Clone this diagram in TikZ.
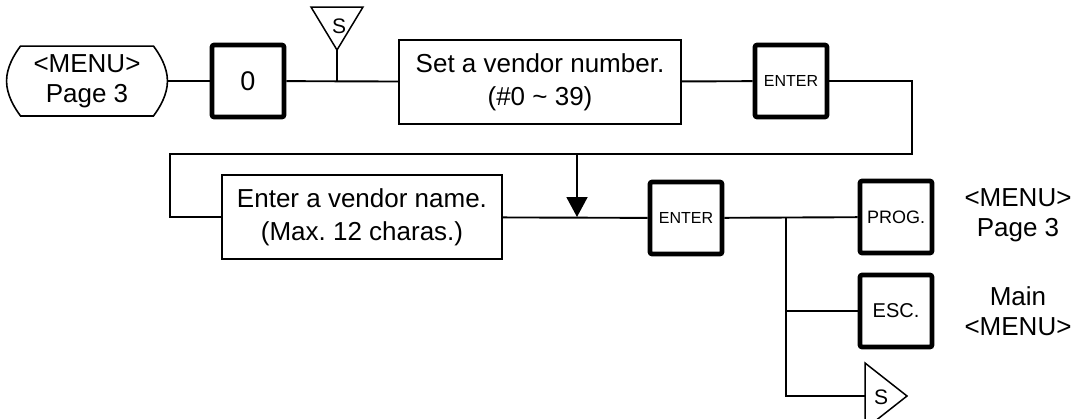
\documentclass[tikz,border=0pt]{standalone}
\usepackage{fontspec}
\setmainfont{Liberation Sans}
\usetikzlibrary{arrows.meta,calc}
\tikzset{
  key/.style={draw,line width=4.6pt,rounded corners=2pt,minimum size=72pt,inner sep=0pt},
  note/.style={draw,line width=1.6pt,minimum width=282pt,minimum height=84pt,align=center,font=\fontsize{26}{33}\selectfont},
  big/.style={align=center,font=\fontsize{26}{30}\selectfont},
  skey/.style={font=\fontsize{21}{21}\selectfont}
}

\begin{document}
\begin{tikzpicture}[x=1pt,y=-1pt,line width=1.9pt]
\useasboundingbox (0,0) rectangle (1076,418);
\node[big,minimum width=131pt,minimum height=68pt,inner sep=0pt] (menu) at (87,81) {<MENU>\\Page 3};
\coordinate (menur) at ($(menu.east)+(14,0)$); \coordinate (menul) at ($(menu.west)+(-14,0)$);
\draw[line width=1.6pt] (menu.north west) -- (menu.north east)
  .. controls +(6,8) and +(0,-14) .. (menur) .. controls +(0,14) and +(6,-8) .. (menu.south east)
  -- (menu.south west) .. controls +(-6,-8) and +(0,14) .. (menul) .. controls +(0,-14) and +(-6,8) .. (menu.north west) -- cycle;
\node[key,font=\fontsize{27}{27}\selectfont] (zero) at (248,81) {0};
\node[note] (setno) at (540,82) {Set a vendor number.\\(\#0 \textasciitilde{} 39)};
\node[key,font=\fontsize{16}{16}\selectfont] (enter) at (791,81) {ENTER};
\node[note,minimum width=280pt] (setname) at (362,217) {Enter a vendor name.\\(Max.\ 12 charas.)};
\node[key,font=\fontsize{16}{16}\selectfont] (enter2) at (686,218) {ENTER};
\node[key,font=\fontsize{18}{18}\selectfont] (prog) at (896,217) {PROG.};
\node[key,font=\fontsize{20}{20}\selectfont] (esc) at (896,311) {ESC.};
\node[big] (ret1) at (1018,215) {<MENU>\\Page 3};
\node[big] (ret2) at (1018,311) {Main\\<MENU>};
\draw (menur) -- (zero);
\foreach \a/\b in {zero/setno,setno/enter,setname/enter2,enter2/prog}{\draw (\a) -- (\b);}
\coordinate (s1) at (337,50);
\draw[line width=1.5pt] (s1) -- ++(-26,-43) -- ++(52,0) -- cycle;
\node[skey] (s1txt) at (339,26) {S};
\draw (s1) -- (s1 |- zero.east);
\coordinate (loopr) at (912,154); \coordinate (loopl) at (170,154);
\draw (enter) -| (loopr) -- (loopl) |- (setname);
\coordinate (drop) at (577,154);
\draw[-{Triangle[width=21pt,length=20pt]}] (drop) -- (drop |- setname.east);
\coordinate (fork) at (786,217); \coordinate (s2) at (865,396);
\draw (fork) |- (s2);
\draw (fork |- esc.west) -- (esc);
\draw[line width=1.5pt] (s2) -- ++(0,-33) -- ++(42,33) -- ++(-42,33) -- cycle;
\node[skey] (s2txt) at (881,397) {S};
\end{tikzpicture}
\end{document}
